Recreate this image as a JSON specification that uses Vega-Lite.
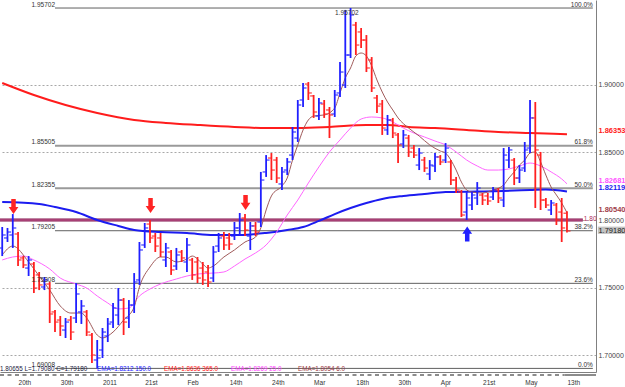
{
"$schema": "https://vega.github.io/schema/vega-lite/v6.json",
"width": 596, "height": 372,
"autosize": {"type": "none"},
"padding": {"left": 0, "top": 0, "right": 29, "bottom": 15},
"background": "white",
"config": {"view": {"stroke": null}, "text": {"font": "Liberation Sans"}, "axis": {"labelFont": "Liberation Sans"}},
"resolve": {"axis": {"x": "independent", "y": "independent"}},
"data": {"values": [{}]},
"datasets": {
"bars": [
{"i":0,"o":1.7793,"h":1.7948,"l":1.7733,"c":1.7889},
{"i":1,"o":1.7867,"h":1.7941,"l":1.7837,"c":1.7911},
{"i":2,"o":1.7889,"h":1.8044,"l":1.7793,"c":1.7941},
{"i":3,"o":1.7896,"h":1.7911,"l":1.7659,"c":1.7704},
{"i":4,"o":1.7719,"h":1.7733,"l":1.7644,"c":1.7667},
{"i":5,"o":1.7644,"h":1.7733,"l":1.7585,"c":1.7704},
{"i":6,"o":1.7674,"h":1.7689,"l":1.7459,"c":1.7496},
{"i":7,"o":1.7593,"h":1.7615,"l":1.7481,"c":1.7519},
{"i":8,"o":1.7504,"h":1.7578,"l":1.7481,"c":1.7556},
{"i":9,"o":1.7526,"h":1.7541,"l":1.7237,"c":1.7304},
{"i":10,"o":1.7319,"h":1.7333,"l":1.7170,"c":1.7244},
{"i":11,"o":1.7259,"h":1.7289,"l":1.7141,"c":1.7215},
{"i":12,"o":1.7185,"h":1.7274,"l":1.7126,"c":1.7244},
{"i":13,"o":1.7259,"h":1.7289,"l":1.7111,"c":1.7170},
{"i":14,"o":1.7274,"h":1.7533,"l":1.7237,"c":1.7452},
{"i":15,"o":1.7319,"h":1.7407,"l":1.7230,"c":1.7363},
{"i":16,"o":1.7319,"h":1.7333,"l":1.7141,"c":1.7170},
{"i":17,"o":1.7148,"h":1.7163,"l":1.6941,"c":1.7000},
{"i":18,"o":1.6963,"h":1.7111,"l":1.69008,"c":1.6978},
{"i":19,"o":1.7037,"h":1.7200,"l":1.6978,"c":1.7170},
{"i":20,"o":1.7141,"h":1.7274,"l":1.7096,"c":1.7230},
{"i":21,"o":1.7244,"h":1.7385,"l":1.7200,"c":1.7348},
{"i":22,"o":1.7296,"h":1.7496,"l":1.7222,"c":1.7407},
{"i":23,"o":1.7407,"h":1.7422,"l":1.7148,"c":1.7244},
{"i":24,"o":1.7274,"h":1.7407,"l":1.7200,"c":1.7370},
{"i":25,"o":1.7370,"h":1.7607,"l":1.7311,"c":1.7541},
{"i":26,"o":1.7556,"h":1.7837,"l":1.7519,"c":1.7778},
{"i":27,"o":1.7815,"h":1.7978,"l":1.7793,"c":1.7941},
{"i":28,"o":1.7970,"h":1.8000,"l":1.7830,"c":1.7867},
{"i":29,"o":1.7881,"h":1.7904,"l":1.7763,"c":1.7807},
{"i":30,"o":1.7867,"h":1.7904,"l":1.7726,"c":1.7763},
{"i":31,"o":1.7704,"h":1.7830,"l":1.7652,"c":1.7793},
{"i":32,"o":1.7763,"h":1.7778,"l":1.7593,"c":1.7630},
{"i":33,"o":1.7659,"h":1.7793,"l":1.7630,"c":1.7741},
{"i":34,"o":1.7763,"h":1.7778,"l":1.7689,"c":1.7719},
{"i":35,"o":1.7689,"h":1.7867,"l":1.7615,"c":1.7815},
{"i":36,"o":1.7704,"h":1.7719,"l":1.7556,"c":1.7593},
{"i":37,"o":1.7689,"h":1.7726,"l":1.7533,"c":1.7570},
{"i":38,"o":1.7644,"h":1.7689,"l":1.7519,"c":1.7556},
{"i":39,"o":1.7615,"h":1.7667,"l":1.7504,"c":1.7541},
{"i":40,"o":1.7570,"h":1.7807,"l":1.7541,"c":1.7763},
{"i":41,"o":1.7807,"h":1.7904,"l":1.7763,"c":1.7867},
{"i":42,"o":1.7881,"h":1.7911,"l":1.7778,"c":1.7815},
{"i":43,"o":1.7867,"h":1.7904,"l":1.7778,"c":1.7822},
{"i":44,"o":1.7881,"h":1.7985,"l":1.7852,"c":1.7941},
{"i":45,"o":1.7941,"h":1.8052,"l":1.7889,"c":1.8000},
{"i":46,"o":1.8015,"h":1.8044,"l":1.7881,"c":1.7926},
{"i":47,"o":1.7881,"h":1.7985,"l":1.7778,"c":1.7956},
{"i":48,"o":1.7956,"h":1.7985,"l":1.7881,"c":1.7911},
{"i":49,"o":1.7985,"h":1.8356,"l":1.7948,"c":1.8296},
{"i":50,"o":1.8356,"h":1.8481,"l":1.8319,"c":1.8444},
{"i":51,"o":1.8459,"h":1.8496,"l":1.8296,"c":1.8370},
{"i":52,"o":1.8444,"h":1.8467,"l":1.8274,"c":1.8311},
{"i":53,"o":1.8267,"h":1.8393,"l":1.8222,"c":1.8356},
{"i":54,"o":1.8370,"h":1.8459,"l":1.8333,"c":1.8430},
{"i":55,"o":1.8481,"h":1.8689,"l":1.8444,"c":1.8652},
{"i":56,"o":1.8607,"h":1.8889,"l":1.8578,"c":1.8852},
{"i":57,"o":1.8889,"h":1.9015,"l":1.8837,"c":1.8978},
{"i":58,"o":1.9007,"h":1.9022,"l":1.8889,"c":1.8941},
{"i":59,"o":1.8919,"h":1.8926,"l":1.8756,"c":1.8800},
{"i":60,"o":1.8770,"h":1.8904,"l":1.8741,"c":1.8867},
{"i":61,"o":1.8859,"h":1.8889,"l":1.8756,"c":1.8785},
{"i":62,"o":1.8815,"h":1.8837,"l":1.8607,"c":1.8778},
{"i":63,"o":1.8785,"h":1.8963,"l":1.8763,"c":1.8926},
{"i":64,"o":1.8941,"h":1.9170,"l":1.8911,"c":1.9096},
{"i":65,"o":1.9000,"h":1.9556,"l":1.8978,"c":1.9222},
{"i":66,"o":1.9222,"h":1.95702,"l":1.9200,"c":1.9519},
{"i":67,"o":1.9444,"h":1.9467,"l":1.9222,"c":1.9296},
{"i":68,"o":1.9393,"h":1.9422,"l":1.9274,"c":1.9333},
{"i":69,"o":1.9333,"h":1.9370,"l":1.9096,"c":1.9126},
{"i":70,"o":1.9185,"h":1.9207,"l":1.8948,"c":1.8978},
{"i":71,"o":1.8904,"h":1.8926,"l":1.8793,"c":1.8844},
{"i":72,"o":1.8859,"h":1.8889,"l":1.8630,"c":1.8681},
{"i":73,"o":1.8667,"h":1.8778,"l":1.8630,"c":1.8741},
{"i":74,"o":1.8741,"h":1.8756,"l":1.8607,"c":1.8644},
{"i":75,"o":1.8630,"h":1.8644,"l":1.8422,"c":1.8556},
{"i":76,"o":1.8563,"h":1.8667,"l":1.8533,"c":1.8630},
{"i":77,"o":1.8607,"h":1.8630,"l":1.8467,"c":1.8504},
{"i":78,"o":1.8533,"h":1.8556,"l":1.8459,"c":1.8481},
{"i":79,"o":1.8407,"h":1.8533,"l":1.8370,"c":1.8496},
{"i":80,"o":1.8444,"h":1.8467,"l":1.8356,"c":1.8385},
{"i":81,"o":1.8341,"h":1.8444,"l":1.8296,"c":1.8407},
{"i":82,"o":1.8400,"h":1.8496,"l":1.8356,"c":1.8467},
{"i":83,"o":1.8467,"h":1.8481,"l":1.8407,"c":1.8430},
{"i":84,"o":1.8444,"h":1.8570,"l":1.8422,"c":1.8533},
{"i":85,"o":1.8430,"h":1.8444,"l":1.8259,"c":1.8296},
{"i":86,"o":1.8296,"h":1.8319,"l":1.8200,"c":1.8222},
{"i":87,"o":1.8207,"h":1.8222,"l":1.8022,"c":1.8037},
{"i":88,"o":1.8059,"h":1.8207,"l":1.8000,"c":1.8163},
{"i":89,"o":1.8111,"h":1.8207,"l":1.8074,"c":1.8185},
{"i":90,"o":1.8163,"h":1.8281,"l":1.8111,"c":1.8237},
{"i":91,"o":1.8185,"h":1.8200,"l":1.8111,"c":1.8148},
{"i":92,"o":1.8178,"h":1.8200,"l":1.8111,"c":1.8141},
{"i":93,"o":1.8170,"h":1.8244,"l":1.8148,"c":1.8222},
{"i":94,"o":1.8222,"h":1.8237,"l":1.8126,"c":1.8163},
{"i":95,"o":1.8148,"h":1.8533,"l":1.8096,"c":1.8481},
{"i":96,"o":1.8444,"h":1.8541,"l":1.8385,"c":1.8519},
{"i":97,"o":1.8444,"h":1.8459,"l":1.8259,"c":1.8311},
{"i":98,"o":1.8311,"h":1.8407,"l":1.8274,"c":1.8370},
{"i":99,"o":1.8385,"h":1.8578,"l":1.8356,"c":1.8519},
{"i":100,"o":1.8533,"h":1.8889,"l":1.8496,"c":1.8756},
{"i":101,"o":1.8756,"h":1.8874,"l":1.8089,"c":1.8519},
{"i":102,"o":1.8481,"h":1.8504,"l":1.8074,"c":1.8148},
{"i":103,"o":1.8148,"h":1.8163,"l":1.8089,"c":1.8111},
{"i":104,"o":1.8074,"h":1.8148,"l":1.8037,"c":1.8126},
{"i":105,"o":1.8111,"h":1.8126,"l":1.7963,"c":1.8000},
{"i":106,"o":1.8059,"h":1.8163,"l":1.7837,"c":1.7941},
{"i":107,"o":1.8050,"h":1.80655,"l":1.7908,"c":1.7918}
],
"ema": [
{"s":"e6","i":0,"v":1.7741},{"s":"e6","i":2,"v":1.7807},{"s":"e6","i":5,"v":1.7689},{"s":"e6","i":7,"v":1.7585},{"s":"e6","i":9,"v":1.7481},{"s":"e6","i":11,"v":1.7363},{"s":"e6","i":13,"v":1.7311},{"s":"e6","i":15,"v":1.7311},{"s":"e6","i":16,"v":1.7274},{"s":"e6","i":18,"v":1.7148},{"s":"e6","i":19,"v":1.7126},{"s":"e6","i":21,"v":1.7170},{"s":"e6","i":23,"v":1.7259},{"s":"e6","i":25,"v":1.7356},{"s":"e6","i":26,"v":1.7504},{"s":"e6","i":28,"v":1.7652},{"s":"e6","i":30,"v":1.7726},{"s":"e6","i":31,"v":1.7726},{"s":"e6","i":33,"v":1.7689},{"s":"e6","i":35,"v":1.7711},{"s":"e6","i":36,"v":1.7733},{"s":"e6","i":38,"v":1.7674},{"s":"e6","i":39,"v":1.7644},{"s":"e6","i":40,"v":1.7659},{"s":"e6","i":42,"v":1.7726},{"s":"e6","i":44,"v":1.7778},{"s":"e6","i":46,"v":1.7837},{"s":"e6","i":48,"v":1.7874},{"s":"e6","i":49,"v":1.7941},{"s":"e6","i":50,"v":1.8074},{"s":"e6","i":51,"v":1.8178},{"s":"e6","i":53,"v":1.8252},{"s":"e6","i":54,"v":1.8311},{"s":"e6","i":55,"v":1.8444},{"s":"e6","i":56,"v":1.8556},{"s":"e6","i":57,"v":1.8667},{"s":"e6","i":58,"v":1.8741},{"s":"e6","i":59,"v":1.8770},{"s":"e6","i":61,"v":1.8778},{"s":"e6","i":63,"v":1.8830},{"s":"e6","i":64,"v":1.8941},{"s":"e6","i":65,"v":1.9052},{"s":"e6","i":66,"v":1.9126},{"s":"e6","i":67,"v":1.9215},{"s":"e6","i":68,"v":1.9237},{"s":"e6","i":69,"v":1.9215},{"s":"e6","i":70,"v":1.9141},{"s":"e6","i":71,"v":1.9037},{"s":"e6","i":72,"v":1.8948},{"s":"e6","i":73,"v":1.8874},{"s":"e6","i":74,"v":1.8815},{"s":"e6","i":75,"v":1.8756},{"s":"e6","i":77,"v":1.8681},{"s":"e6","i":79,"v":1.8622},{"s":"e6","i":81,"v":1.8556},{"s":"e6","i":83,"v":1.8511},{"s":"e6","i":84,"v":1.8496},{"s":"e6","i":85,"v":1.8444},{"s":"e6","i":86,"v":1.8370},{"s":"e6","i":87,"v":1.8281},{"s":"e6","i":88,"v":1.8222},{"s":"e6","i":89,"v":1.8207},{"s":"e6","i":91,"v":1.8200},{"s":"e6","i":93,"v":1.8222},{"s":"e6","i":95,"v":1.8259},{"s":"e6","i":96,"v":1.8311},{"s":"e6","i":97,"v":1.8356},{"s":"e6","i":98,"v":1.8407},{"s":"e6","i":99,"v":1.8444},{"s":"e6","i":100,"v":1.8496},{"s":"e6","i":101,"v":1.8504},{"s":"e6","i":102,"v":1.8430},{"s":"e6","i":103,"v":1.8333},{"s":"e6","i":104,"v":1.8244},{"s":"e6","i":105,"v":1.8185},{"s":"e6","i":106,"v":1.8126},{"s":"e6","i":107,"v":1.8054},
{"s":"e25","i":0,"v":1.7704},{"s":"e25","i":2,"v":1.7726},{"s":"e25","i":4,"v":1.7733},{"s":"e25","i":6,"v":1.7704},{"s":"e25","i":9,"v":1.7637},{"s":"e25","i":11,"v":1.7570},{"s":"e25","i":14,"v":1.7526},{"s":"e25","i":16,"v":1.7496},{"s":"e25","i":18,"v":1.7437},{"s":"e25","i":20,"v":1.7385},{"s":"e25","i":22,"v":1.7341},{"s":"e25","i":24,"v":1.7348},{"s":"e25","i":26,"v":1.7437},{"s":"e25","i":28,"v":1.7489},{"s":"e25","i":30,"v":1.7526},{"s":"e25","i":33,"v":1.7563},{"s":"e25","i":35,"v":1.7585},{"s":"e25","i":37,"v":1.7600},{"s":"e25","i":40,"v":1.7607},{"s":"e25","i":42,"v":1.7615},{"s":"e25","i":44,"v":1.7659},{"s":"e25","i":46,"v":1.7711},{"s":"e25","i":48,"v":1.7756},{"s":"e25","i":50,"v":1.7815},{"s":"e25","i":52,"v":1.7911},{"s":"e25","i":54,"v":1.8037},{"s":"e25","i":56,"v":1.8148},{"s":"e25","i":58,"v":1.8274},{"s":"e25","i":60,"v":1.8393},{"s":"e25","i":62,"v":1.8504},{"s":"e25","i":64,"v":1.8593},{"s":"e25","i":66,"v":1.8681},{"s":"e25","i":68,"v":1.8748},{"s":"e25","i":70,"v":1.8763},{"s":"e25","i":72,"v":1.8756},{"s":"e25","i":74,"v":1.8726},{"s":"e25","i":76,"v":1.8681},{"s":"e25","i":78,"v":1.8644},{"s":"e25","i":80,"v":1.8615},{"s":"e25","i":82,"v":1.8585},{"s":"e25","i":84,"v":1.8556},{"s":"e25","i":86,"v":1.8504},{"s":"e25","i":88,"v":1.8444},{"s":"e25","i":90,"v":1.8400},{"s":"e25","i":92,"v":1.8370},{"s":"e25","i":94,"v":1.8370},{"s":"e25","i":96,"v":1.8378},{"s":"e25","i":98,"v":1.8400},{"s":"e25","i":100,"v":1.8422},{"s":"e25","i":102,"v":1.8400},{"s":"e25","i":104,"v":1.8356},{"s":"e25","i":106,"v":1.8304},{"s":"e25","i":107,"v":1.82681},
{"s":"e150","i":0,"v":1.8133},{"s":"e150","i":7,"v":1.8119},{"s":"e150","i":10,"v":1.8096},{"s":"e150","i":14,"v":1.8059},{"s":"e150","i":18,"v":1.8000},{"s":"e150","i":22,"v":1.7956},{"s":"e150","i":25,"v":1.7926},{"s":"e150","i":30,"v":1.7911},{"s":"e150","i":35,"v":1.7904},{"s":"e150","i":40,"v":1.7889},{"s":"e150","i":45,"v":1.7889},{"s":"e150","i":50,"v":1.7904},{"s":"e150","i":54,"v":1.7926},{"s":"e150","i":57,"v":1.7948},{"s":"e150","i":60,"v":1.7993},{"s":"e150","i":63,"v":1.8044},{"s":"e150","i":66,"v":1.8089},{"s":"e150","i":69,"v":1.8126},{"s":"e150","i":72,"v":1.8156},{"s":"e150","i":76,"v":1.8178},{"s":"e150","i":80,"v":1.8193},{"s":"e150","i":84,"v":1.8207},{"s":"e150","i":90,"v":1.8211},{"s":"e150","i":95,"v":1.8215},{"s":"e150","i":100,"v":1.8222},{"s":"e150","i":103,"v":1.8226},{"s":"e150","i":107,"v":1.82119},
{"s":"e365","i":0,"v":1.9015},{"s":"e365","i":6,"v":1.8926},{"s":"e365","i":12,"v":1.8852},{"s":"e365","i":18,"v":1.8793},{"s":"e365","i":25,"v":1.8741},{"s":"e365","i":31,"v":1.8719},{"s":"e365","i":37,"v":1.8704},{"s":"e365","i":44,"v":1.8689},{"s":"e365","i":50,"v":1.8681},{"s":"e365","i":56,"v":1.8681},{"s":"e365","i":62,"v":1.8689},{"s":"e365","i":69,"v":1.8704},{"s":"e365","i":73,"v":1.8704},{"s":"e365","i":77,"v":1.8689},{"s":"e365","i":82,"v":1.8681},{"s":"e365","i":88,"v":1.8667},{"s":"e365","i":94,"v":1.8652},{"s":"e365","i":100,"v":1.8644},{"s":"e365","i":107,"v":1.86353}
],
"fib": [
{"p":1.95702,"lbl":"1.95702","pct":"100.0%"},
{"p":1.85505,"lbl":"1.85505","pct":"61.8%"},
{"p":1.82355,"lbl":"1.82355","pct":"50.0%"},
{"p":1.79205,"lbl":"1.79205","pct":"38.2%"},
{"p":1.75308,"lbl":"1.75308","pct":"23.6%"},
{"p":1.69008,"lbl":"1.69008","pct":"0.0%"}
],
"arrows": [
{"i":2.14,"p":1.8100,"dir":"down"},
{"i":28.1,"p":1.8107,"dir":"down"},
{"i":46.1,"p":1.8130,"dir":"down"},
{"i":88.1,"p":1.7896,"dir":"up"}
],
"vlab": [
{"t":"1.86353","p":1.86353,"s":"e365"},
{"t":"1.82681","p":1.82681,"s":"e25"},
{"t":"1.82119","p":1.82119,"s":"e150"},
{"t":"1.80540","p":1.8054,"s":"e6"}
]
},
"layer": [
{"data": {"name": "fib"}, "mark": {"type": "rule"},
 "encoding": {"x": {"datum": 10, "axis": null}, "x2": {"datum": 111.9}, "y": {"field": "p", "type": "quantitative", "axis": null},
  "color": {"condition": {"test": "datum.pct == '61.8%' || datum.pct == '50.0%'", "value": "#9a9a9a"}, "value": "#606060"},
  "strokeWidth": {"condition": {"test": "datum.pct == '61.8%' || datum.pct == '50.0%'", "value": 2}, "value": 1}}},
{"mark": {"type": "rule", "color": "#80104a", "strokeWidth": 3},
 "encoding": {"x": {"datum": -0.42, "axis": null}, "x2": {"datum": 110.0}, "y": {"datum": 1.8, "axis": null}}},
{"mark": {"type": "rule", "color": "#d070a0", "strokeWidth": 1},
 "encoding": {"x": {"datum": -0.42, "axis": null}, "x2": {"datum": 110.0}, "y": {"datum": 1.8, "axis": null}}},
{"data": {"name": "ema"}, "transform": [{"filter": "datum.s == 'e365'"}], "mark": {"type": "line", "interpolate": "monotone", "color": "#ff1c1c", "strokeWidth": 2},
 "encoding": {"x": {"field": "i", "type": "quantitative", "axis": null}, "y": {"field": "v", "type": "quantitative", "axis": null}}},
{"data": {"name": "ema"}, "transform": [{"filter": "datum.s == 'e150'"}], "mark": {"type": "line", "interpolate": "monotone", "color": "#1c1cf0", "strokeWidth": 2},
 "encoding": {"x": {"field": "i", "type": "quantitative", "axis": null}, "y": {"field": "v", "type": "quantitative", "axis": null}}},
{"data": {"name": "ema"}, "transform": [{"filter": "datum.s == 'e25'"}], "mark": {"type": "line", "interpolate": "monotone", "color": "#ff66ff", "strokeWidth": 1},
 "encoding": {"x": {"field": "i", "type": "quantitative", "axis": null}, "y": {"field": "v", "type": "quantitative", "axis": null}}},
{"data": {"name": "ema"}, "transform": [{"filter": "datum.s == 'e6'"}], "mark": {"type": "line", "interpolate": "monotone", "color": "#a05a5a", "strokeWidth": 1},
 "encoding": {"x": {"field": "i", "type": "quantitative", "axis": null}, "y": {"field": "v", "type": "quantitative", "axis": null}}},
{"data": {"name": "bars"}, "mark": {"type": "rule", "strokeWidth": 1.8},
 "encoding": {
  "x": {"field": "i", "type": "quantitative", "scale": {"domain": [-0.42, 112.5], "nice": false, "zero": false},
   "axis": {"orient": "bottom", "values": [3,11,19,27,35,43,51,59,67,75,83,91,99,107],
    "labelExpr": "['20th','30th','2011','21st','Feb','14th','24th','Mar','18th','30th','Apr','21st','May','13th'][round((datum.value-3)/8)]",
    "title": null, "ticks": false, "grid": false, "domain": true, "domainColor": "#808080", "labels": true, "labelAlign": "left", "labelFlush": false, "labelPadding": 7, "labelFontSize": 6.5, "labelColor": "#333333"}},
  "y": {"field": "l", "type": "quantitative", "scale": {"domain": [1.68741, 1.96296], "nice": false, "zero": false},
   "axis": {"orient": "right", "values": [1.7,1.75,1.8,1.85,1.9], "format": ".5f", "title": null, "ticks": false, "grid": true, "gridDash": [2,2], "gridColor": "#a8a8a8", "domain": true, "domainColor": "#808080", "labels": true, "labelPadding": 2, "labelFontSize": 7, "labelColor": "#444444", "labelFlush": false, "labelBaseline": "middle"}},
  "y2": {"field": "h"},
  "color": {"condition": {"test": "datum.c >= datum.o", "value": "#1f1fff"}, "value": "#ff2020"}
 }},
{"data": {"name": "bars"}, "mark": {"type": "tick", "orient": "horizontal", "size": 3, "thickness": 1.5, "xOffset": -2},
 "encoding": {"x": {"field": "i", "type": "quantitative", "axis": null}, "y": {"field": "o", "type": "quantitative", "axis": null},
  "color": {"condition": {"test": "datum.c >= datum.o", "value": "#1f1fff"}, "value": "#ff2020"}}},
{"data": {"name": "bars"}, "mark": {"type": "tick", "orient": "horizontal", "size": 3, "thickness": 1.5, "xOffset": 2},
 "encoding": {"x": {"field": "i", "type": "quantitative", "axis": null}, "y": {"field": "c", "type": "quantitative", "axis": null},
  "color": {"condition": {"test": "datum.c >= datum.o", "value": "#1f1fff"}, "value": "#ff2020"}}},
{"data": {"name": "arrows"}, "mark": {"type": "point", "filled": true, "opacity": 1, "size": 225},
 "encoding": {"x": {"field": "i", "type": "quantitative", "axis": null}, "y": {"field": "p", "type": "quantitative", "axis": null},
  "shape": {"field": "dir", "type": "nominal", "scale": {"domain": ["down","up"], "range": ["M-0.3,-1L0.3,-1L0.3,0.05L0.65,0.05L0,1L-0.65,0.05L-0.3,0.05Z","M-0.3,1L0.3,1L0.3,-0.05L0.65,-0.05L0,-1L-0.65,-0.05L-0.3,-0.05Z"]}, "legend": null},
  "fill": {"field": "dir", "type": "nominal", "scale": {"domain": ["down","up"], "range": ["#ff2424","#2020ff"]}, "legend": null}}},
{"data": {"name": "fib"}, "mark": {"type": "text", "align": "right", "baseline": "alphabetic", "dy": -1.5, "fontSize": 6.5, "color": "#333333"},
 "encoding": {"x": {"datum": 10, "axis": null}, "y": {"field": "p", "type": "quantitative", "axis": null}, "text": {"field": "lbl"}}},
{"data": {"name": "fib"}, "mark": {"type": "text", "align": "right", "baseline": "alphabetic", "dy": -1.5, "fontSize": 6.5, "color": "#333333"},
 "encoding": {"x": {"datum": 111.9, "axis": null}, "y": {"field": "p", "type": "quantitative", "axis": null}, "text": {"field": "pct"}}},
{"mark": {"type": "text", "align": "center", "baseline": "middle", "fontSize": 6.5, "color": "#333333"},
 "encoding": {"x": {"datum": 65.3, "axis": null}, "y": {"datum": 1.9537, "axis": null}, "text": {"value": "1.95702"}}},
{"data": {"name": "vlab"}, "mark": {"type": "text", "align": "left", "baseline": "bottom", "fontSize": 7.5, "fontWeight": "bold", "dy": 1},
 "encoding": {"x": {"datum": 112.95, "axis": null}, "y": {"field": "p", "type": "quantitative", "axis": null}, "text": {"field": "t"},
  "color": {"field": "s", "type": "nominal", "scale": {"domain": ["e365","e150","e25","e6"], "range": ["#ff1c1c","#1c1cf0","#ff55ff","#a0404a"]}, "legend": null}}},
{"mark": {"type": "rect", "color": "#c4c4c4"},
 "encoding": {"x": {"datum": 112.85, "axis": null}, "x2": {"datum": 118.6}, "y": {"datum": 1.7951, "axis": null}, "y2": {"datum": 1.7897}}},
{"mark": {"type": "text", "align": "left", "baseline": "middle", "fontSize": 7.5, "color": "#202020"},
 "encoding": {"x": {"datum": 112.95, "axis": null}, "y": {"datum": 1.7921, "axis": null}, "text": {"value": "1.79180"}}},
{"mark": {"type": "text", "align": "left", "baseline": "middle", "fontSize": 6.5, "color": "#b03060"},
 "encoding": {"x": {"datum": 110.2, "axis": null}, "y": {"datum": 1.8005, "axis": null}, "text": {"value": "1.80"}}},
{"mark": {"type": "text", "align": "left", "baseline": "middle", "fontSize": 6.3, "color": "#202040"},
 "encoding": {"x": {"datum": -0.42, "axis": null}, "y": {"datum": 1.6900, "axis": null}, "text": {"value": "1.80655 L=1.79080 C=1.79180"}}},
{"mark": {"type": "text", "align": "left", "baseline": "middle", "fontSize": 6.3, "color": "#2020ff"},
 "encoding": {"x": {"datum": 17.96, "axis": null}, "y": {"datum": 1.6900, "axis": null}, "text": {"value": "EMA=1.8212 150.0"}}},
{"mark": {"type": "text", "align": "left", "baseline": "middle", "fontSize": 6.3, "color": "#ff2020"},
 "encoding": {"x": {"datum": 30.65, "axis": null}, "y": {"datum": 1.6900, "axis": null}, "text": {"value": "EMA=1.8636 365.0"}}},
{"mark": {"type": "text", "align": "left", "baseline": "middle", "fontSize": 6.3, "color": "#ff44ff"},
 "encoding": {"x": {"datum": 43.35, "axis": null}, "y": {"datum": 1.6900, "axis": null}, "text": {"value": "EMA=1.8269 25.0"}}},
{"mark": {"type": "text", "align": "left", "baseline": "middle", "fontSize": 6.3, "color": "#a03c46"},
 "encoding": {"x": {"datum": 56.04, "axis": null}, "y": {"datum": 1.6900, "axis": null}, "text": {"value": "EMA=1.8054 6.0"}}},
{"mark": {"type": "rule", "color": "#8c8c8c", "strokeWidth": 2, "strokeDash": [4, 3.5]},
 "encoding": {"x": {"datum": -0.42, "axis": null}, "x2": {"datum": 106.5}, "y": {"datum": 1.6852, "axis": null}}},
{"mark": {"type": "rule", "color": "#8c8c8c", "strokeWidth": 2},
 "encoding": {"x": {"datum": 106.5, "axis": null}, "x2": {"datum": 112.5}, "y": {"datum": 1.6852, "axis": null}}}
]
}
